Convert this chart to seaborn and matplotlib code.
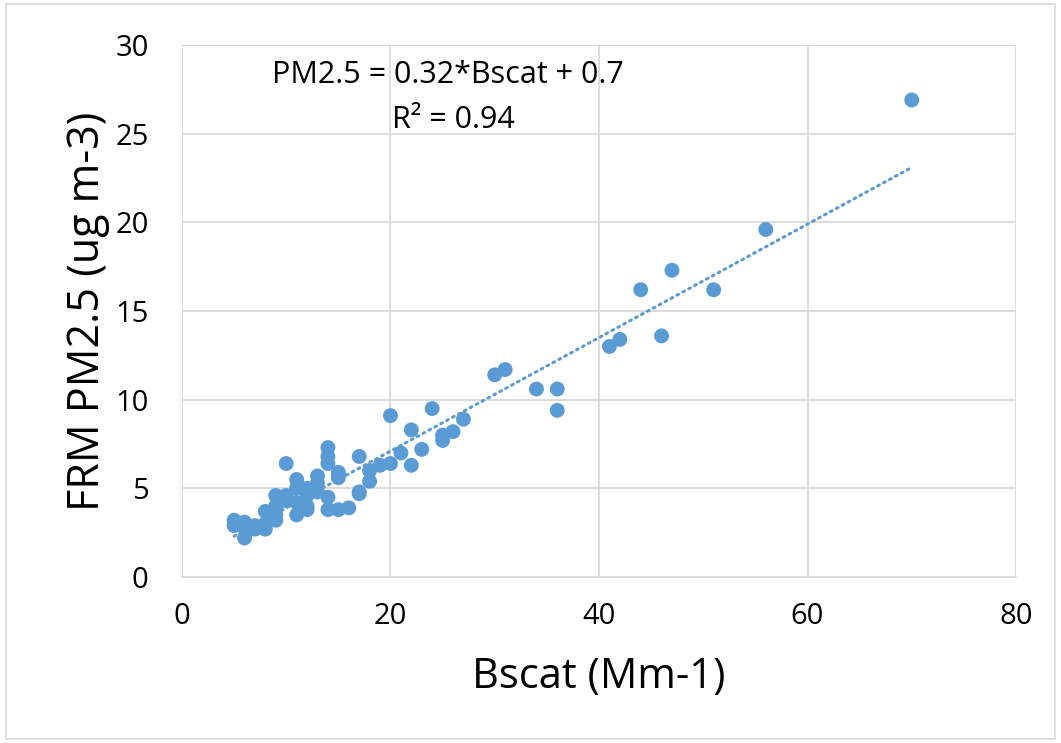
import numpy as np
import pandas as pd
import matplotlib
matplotlib.use("Agg")
import matplotlib.pyplot as plt
import seaborn as sns
from matplotlib.patches import Rectangle

# ---------------------------
# data
# ---------------------------
bscat = [70, 56, 47, 44, 51, 46, 42, 41, 30, 31, 34, 36, 36, 24, 20,
         27, 26, 25, 25, 22, 23, 21, 17, 20, 19, 22, 18, 18,
         14, 14, 14, 15, 15, 15, 10, 17, 17, 16, 15, 14, 14,
         13, 13, 12, 11, 11, 12, 12, 11, 11, 12, 13, 10, 10,
         9, 9, 9, 9, 8, 8, 8, 7, 7, 6, 6, 6, 5, 5]
pm25 = [26.9, 19.6, 17.3, 16.2, 16.2, 13.6, 13.4, 13.0, 11.4, 11.7, 10.6, 10.6, 9.4, 9.5, 9.1,
        8.9, 8.2, 8.0, 7.7, 8.3, 7.2, 7.0, 6.8, 6.4, 6.3, 6.3, 6.0, 5.4,
        7.3, 6.8, 6.4, 5.8, 5.9, 5.6, 6.4, 4.7, 4.8, 3.9, 3.8, 3.8, 4.5,
        5.7, 5.3, 5.0, 5.5, 5.0, 4.6, 4.0, 3.5, 4.2, 3.8, 4.8, 4.6, 4.3,
        4.6, 4.0, 3.5, 3.2, 3.7, 3.0, 2.7, 2.9, 2.7, 3.1, 2.8, 2.2, 3.2, 2.9]

# trendline as printed on the chart
slope = 0.32
intercept = 0.7
r2 = 0.94

x_ticks = [0, 20, 40, 60, 80]
y_ticks = [0, 5, 10, 15, 20, 25, 30]

df = pd.DataFrame({"Bscat": bscat, "PM25": pm25})

BLUE = "#5B9BD5"
GRID = "#D9D9D9"

sns.set_style("white")
plt.rcParams["font.family"] = ["Open Sans", "DejaVu Sans"]

fig = plt.figure(figsize=(10.61, 7.43), dpi=100)
ax = fig.add_axes([0.1715, 0.2234, 0.7861, 0.7160])

sns.scatterplot(data=df, x="Bscat", y="PM25", ax=ax, color=BLUE, s=115,
                edgecolor="none", zorder=3)

# dotted linear trendline over the data range
xs = np.array([min(bscat), max(bscat)])
ax.plot(xs, slope * xs + intercept, color=BLUE, linestyle=(0, (0.6, 1.6)),
        linewidth=2.2, dash_capstyle="round", zorder=2)

ax.text(25.5, 28.3, f"PM2.5 = {slope}*Bscat + {intercept}", ha="center",
        va="center", fontsize=22, color="black")
ax.text(26.0, 25.8, f"R² = {r2}", ha="center", va="center", fontsize=22,
        color="black")

ax.set_xlim(0, 80)
ax.set_ylim(0, 30)
ax.set_xticks(x_ticks)
ax.set_yticks(y_ticks)
ax.grid(True, color=GRID, linewidth=1.3)
ax.set_axisbelow(True)
for side in ["top", "right", "left"]:
    ax.spines[side].set_visible(False)
ax.spines["bottom"].set_color(GRID)
ax.spines["bottom"].set_linewidth(1.3)
ax.tick_params(axis="both", length=0, labelsize=21, colors="black")
ax.tick_params(axis="x", pad=18)
ax.tick_params(axis="y", pad=24)

ax.set_xlabel("Bscat (Mm-1)", fontsize=30, labelpad=18, color="black")
ax.set_ylabel("FRM PM2.5 (ug m-3)", fontsize=31, labelpad=4, color="black")

# light outer border of the chart area
fig.patches.append(Rectangle((0.006, 0.006), 0.988, 0.988, transform=fig.transFigure,
                             fill=False, edgecolor=GRID, linewidth=1.2))

fig.savefig("out.png", dpi=100, facecolor="white")
